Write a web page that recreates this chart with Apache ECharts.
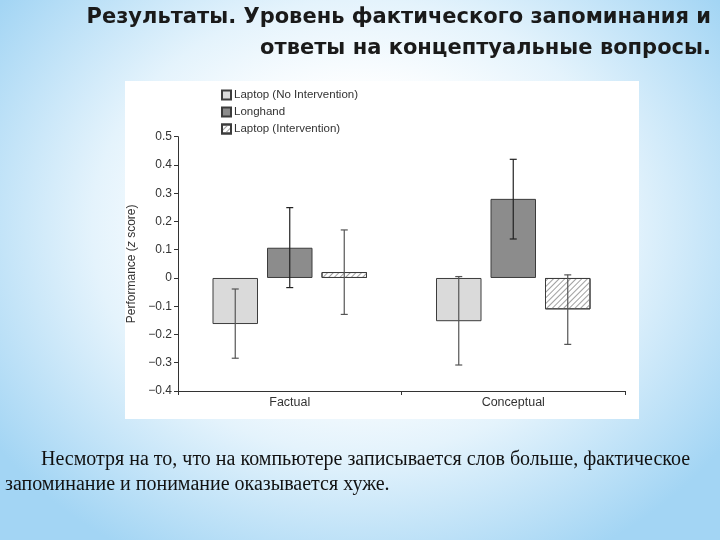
<!DOCTYPE html>
<html><head><meta charset="utf-8">
<script src="https://cdn.jsdelivr.net/npm/echarts@6/dist/echarts.min.js"></script>
<style>
html,body{margin:0;padding:0;}
body{width:720px;height:540px;overflow:hidden;background:radial-gradient(ellipse 62% 70% at 50% 42%, #ffffff 35%, #e4f3fc 60%, #a3d5f4 100%);}
#c{width:720px;height:540px;}
</style></head><body><div id="c"></div>
<script>
const categories = ['Factual', 'Conceptual'];
const seriesNames = ['Laptop (No Intervention)', 'Longhand', 'Laptop (Intervention)'];
const laptopNoInt = [-0.163, -0.153];
const longhand = [0.107, 0.280];
const laptopInt = [0.021, -0.111];
const laptopNoIntErr = [[-0.284, -0.039], [-0.308, 0.005]];
const longhandErr = [[-0.034, 0.249], [0.138, 0.420]];
const laptopIntErr = [[-0.129, 0.170], [-0.235, 0.011]];
const yMin = -0.4, yMax = 0.5, yStep = 0.1;
const titleLines = ['Результаты. Уровень фактического запоминания и', 'ответы на концептуальные вопросы.'];
const noteLines = ['Несмотря на то, что на компьютере записывается слов больше, фактическое', 'запоминание и понимание оказывается хуже.'];

const SANS = "'Liberation Sans',Arial,sans-serif";
const BAR_W = 45.5, BAR_GAP = 9;
const STEP = BAR_W + BAR_GAP;

function errSeries(vals, idx, color) {
  return {
    type: 'custom', z: 5, silent: true,
    data: vals.map((e, i) => [i, e[0], e[1]]),
    renderItem: function (params, api) {
      const cx = api.coord([api.value(0), 0])[0] + (idx - 1) * STEP;
      const lo = api.coord([api.value(0), api.value(1)])[1];
      const hi = api.coord([api.value(0), api.value(2)])[1];
      const st = { stroke: color, lineWidth: 1.2 };
      return { type: 'group', children: [
        { type: 'line', shape: { x1: cx, y1: hi, x2: cx, y2: lo }, style: st },
        { type: 'line', shape: { x1: cx - 3.5, y1: hi, x2: cx + 3.5, y2: hi }, style: st },
        { type: 'line', shape: { x1: cx - 3.5, y1: lo, x2: cx + 3.5, y2: lo }, style: st }
      ]};
    }
  };
}

const chart = echarts.init(document.getElementById('c'), null, { renderer: 'canvas' });
const axisColor = '#333';
chart.setOption({
  animation: false,
  backgroundColor: 'transparent',
  graphic: [
    { type: 'rect', z: -10, shape: { x: 125, y: 81, width: 514, height: 338 }, style: { fill: '#ffffff' } },
    { type: 'text', z: 10, style: { text: titleLines[0], x: 711, y: 7, textAlign: 'right', font: 'bold 21px "DejaVu Sans"', fill: '#1a1a1a' } },
    { type: 'text', z: 10, style: { text: titleLines[1], x: 711, y: 38, textAlign: 'right', font: 'bold 21px "DejaVu Sans"', fill: '#1a1a1a' } },
    { type: 'text', z: 10, style: { text: noteLines[0], x: 41, y: 450, font: '20px "Liberation Serif"', fill: '#111' } },
    { type: 'text', z: 10, style: { text: noteLines[1], x: 5, y: 475, font: '20px "Liberation Serif"', fill: '#111' } }
  ],
  grid: { left: 178, right: 95, top: 136.7, bottom: 149, containLabel: false },
  legend: {
    data: seriesNames, orient: 'vertical', left: 216, top: 84,
    icon: 'rect', itemWidth: 9, itemHeight: 9, itemGap: 5,
    textStyle: { fontFamily: SANS, fontSize: 11.5, color: '#333', padding: [0, 0, 0, -2] },
    selectedMode: false
  },
  xAxis: [
    { type: 'category', data: categories, position: 'bottom',
      axisLine: { show: false }, axisTick: { show: false },
      axisLabel: { margin: 5, fontFamily: SANS, fontSize: 12.5, color: '#333' } },
    { type: 'category', data: categories, position: 'bottom',
      axisLine: { onZero: true, lineStyle: { color: axisColor, width: 1 } },
      axisTick: { show: true, length: 4, lineStyle: { color: axisColor } },
      axisLabel: { show: false } }
  ],
  yAxis: {
    type: 'value', min: yMin, max: yMax, interval: yStep,
    axisLine: { show: true, lineStyle: { color: axisColor } },
    axisTick: { show: true, length: 4, lineStyle: { color: axisColor } },
    splitLine: { show: false },
    axisLabel: { margin: 6, fontFamily: SANS, fontSize: 12, color: '#333',
      formatter: v => Math.abs(v) < 1e-9 ? '0' : (v < 0 ? '\u2212' + Math.abs(v).toFixed(1) : v.toFixed(1)) },
    name: 'Performance ({i|z} score)', nameLocation: 'middle', nameGap: 33,
    nameTextStyle: { fontFamily: SANS, fontSize: 12, color: '#333',
      rich: { i: { fontStyle: 'italic', fontFamily: SANS, fontSize: 12, color: '#333' } } }
  },
  series: [
    { name: seriesNames[0], type: 'bar', data: laptopNoInt, barWidth: BAR_W, barGap: (BAR_GAP / BAR_W * 100) + '%',
      itemStyle: { color: '#dadada', borderColor: '#3c3c3c', borderWidth: 1 } },
    { name: seriesNames[1], type: 'bar', data: longhand, barWidth: BAR_W,
      itemStyle: { color: '#8c8c8c', borderColor: '#3c3c3c', borderWidth: 1 } },
    { name: seriesNames[2], type: 'bar', data: laptopInt, barWidth: BAR_W,
      itemStyle: { color: '#ffffff', borderColor: '#3c3c3c', borderWidth: 1,
        decal: { symbol: 'rect', dashArrayX: [1, 0], dashArrayY: [1, 2.5], rotation: -Math.PI / 4, color: '#a0a0a0', symbolSize: 1 } } },
    errSeries(laptopNoIntErr, 0, '#555'),
    errSeries(longhandErr, 1, '#222'),
    errSeries(laptopIntErr, 2, '#555')
  ]
});
</script></body></html>
